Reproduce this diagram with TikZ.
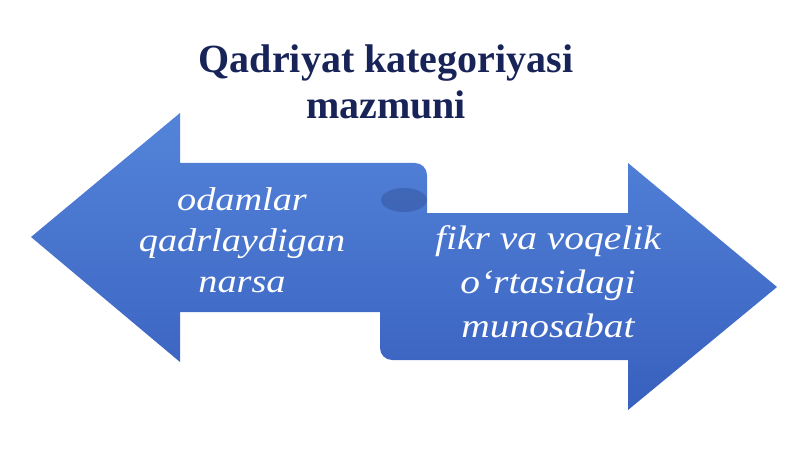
\documentclass[tikz,border=0pt]{standalone}
\usepackage{fontspec}
\setmainfont{Liberation Serif}
\newfontfamily\widefont[FakeStretch=1.16]{Liberation Serif}
\usetikzlibrary{shadings}
\definecolor{titleblue}{RGB}{24,36,88}
\definecolor{arrowtop}{RGB}{84,132,218}
\definecolor{arrowbot}{RGB}{56,96,190}
\definecolor{foldblue}{RGB}{48,80,150}
\tikzset{
  heading/.style={font=\fontsize{40}{46}\selectfont\bfseries, text=titleblue, align=center},
  arrowtext/.style 2 args={font=\fontsize{#1}{#2}\selectfont\widefont\itshape, text=white, align=center},
}

\begin{document}
\begin{tikzpicture}[x=1pt, y=-1pt]
\useasboundingbox (0,0) rectangle (800,449);
\coordinate (L1) at (427,163);
\coordinate (L2) at (180,163);
\coordinate (L3) at (180,113);
\coordinate (L4) at (31,237);
\coordinate (L5) at (180,362);
\coordinate (L6) at (180,312);
\coordinate (L7) at (427,312);
\coordinate (R1) at (380,213);
\coordinate (R2) at (380,360);
\coordinate (R3) at (628,360);
\coordinate (R4) at (628,410);
\coordinate (R5) at (777,287);
\coordinate (R6) at (628,163);
\coordinate (R7) at (628,213);
\shade[top color=arrowtop, bottom color=arrowbot]
  (L7) [rounded corners=12pt] -- (L1) [sharp corners] -- (L2) -- (L3) -- (L4) -- (L5) -- (L6) -- cycle
  (R1) [rounded corners=12pt] -- (R2) [sharp corners] -- (R3) -- (R4) -- (R5) -- (R6) -- (R7) -- cycle;
\fill[foldblue, opacity=0.45] (404,200) ellipse (23 and 12);
\node[heading] (title) at (386,82) {Qadriyat kategoriyasi\\mazmuni};
\node[arrowtext={33}{41}] (left) at (242,240) {odamlar\\qadrlaydigan\\narsa};
\node[arrowtext={34}{44}] (right) at (548,282) {fikr va voqelik\\o‘rtasidagi\\munosabat};
\end{tikzpicture}
\end{document}
